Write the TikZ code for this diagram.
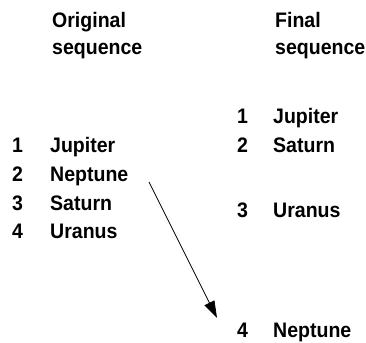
\documentclass[tikz,border=0pt]{standalone}
\usepackage{fontspec}
\setmainfont{Liberation Sans}
\newfontfamily\lblfont[FakeStretch=0.93]{Liberation Sans}
\usetikzlibrary{arrows.meta}
\begin{document}
\begin{tikzpicture}[x=1pt,y=-1pt,
  lbl/.style={anchor=base west,inner sep=0pt,font=\lblfont\fontsize{21}{25}\selectfont\bfseries},
  conn/.style={draw,line width=0.7pt,-{Triangle[length=17pt,width=11pt]}}]
\useasboundingbox (0,0) rectangle (366,342);
% headers
\node[lbl] (h1a) at (52,28) {Original};
\node[lbl] (h1b) at (52,55) {sequence};
\node[lbl] (h2a) at (275,28) {Final};
\node[lbl] (h2b) at (275,55) {sequence};
% left list
\node[lbl] (ln1) at (12,152) {1};
\node[lbl] (lt1) at (50,152) {Jupiter};
\node[lbl] (ln2) at (12,181) {2};
\node[lbl] (lt2) at (50,181) {Neptune};
\node[lbl] (ln3) at (12,210) {3};
\node[lbl] (lt3) at (50,210) {Saturn};
\node[lbl] (ln4) at (12,238) {4};
\node[lbl] (lt4) at (50,238) {Uranus};
% right list
\node[lbl] (rn1) at (237,123) {1};
\node[lbl] (rt1) at (273,123) {Jupiter};
\node[lbl] (rn2) at (237,152) {2};
\node[lbl] (rt2) at (273,152) {Saturn};
\node[lbl] (rn3) at (237,217) {3};
\node[lbl] (rt3) at (273,217) {Uranus};
\node[lbl] (rn4) at (237,337) {4};
\node[lbl] (rt4) at (273,337) {Neptune};
% arrow
\coordinate (as) at (149,182);
\coordinate (ae) at (217,318);
\draw[conn] (as) -- (ae);
\end{tikzpicture}
\end{document}
